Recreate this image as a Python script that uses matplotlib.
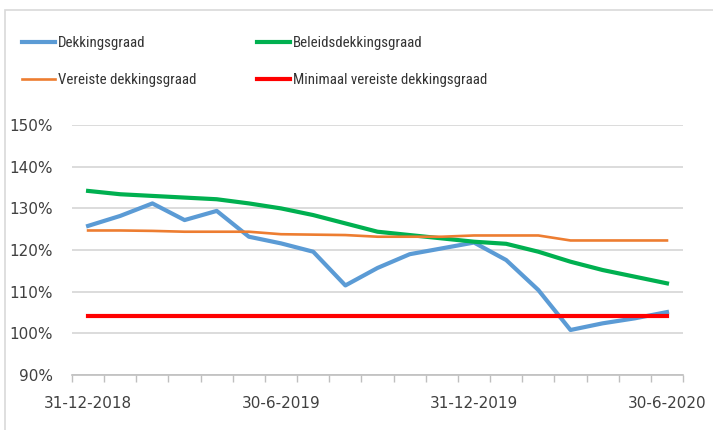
import matplotlib
matplotlib.use('Agg')
import matplotlib.pyplot as plt
from matplotlib.patches import Rectangle
from matplotlib.ticker import FuncFormatter, MultipleLocator
import numpy as np

# maandstanden dec 2018 - jun 2020
dekkingsgraad = [125.8, 128.2, 131.2, 127.2, 129.4, 123.2, 121.6, 119.6, 111.5, 115.7,
                 119.0, 120.4, 121.8, 117.6, 110.4, 100.8, 102.4, 103.6, 105.1]
beleidsdekkingsgraad = [134.2, 133.4, 133.0, 132.6, 132.2, 131.2, 130.0, 128.4, 126.4, 124.4,
                        123.6, 122.8, 122.0, 121.5, 119.6, 117.2, 115.2, 113.6, 112.0]
vereiste = [124.7, 124.7, 124.6, 124.4, 124.4, 124.4, 123.8, 123.7, 123.6, 123.2,
            123.2, 123.2, 123.5, 123.5, 123.5, 122.3, 122.3, 122.3, 122.3]
minimaal = [104.2] * 19
tick_labels = {0: '31-12-2018', 6: '30-6-2019', 12: '31-12-2019', 18: '30-6-2020'}

x = np.arange(len(dekkingsgraad))

fig = plt.figure(figsize=(7.13, 4.30), dpi=100)
ax = fig.add_axes([0.101, 0.128, 0.857, 0.581])

fig.patches.append(Rectangle((5 / 713, -0.1), 1.2, 1 - 10 / 430 + 0.1, transform=fig.transFigure,
                             fill=False, edgecolor='#d9d9d9', linewidth=1.2))

l1, = ax.plot(x, dekkingsgraad, color='#5b9bd5', lw=3.0, label='Dekkingsgraad', solid_joinstyle='round')
l2, = ax.plot(x, beleidsdekkingsgraad, color='#00b050', lw=3.0, label='Beleidsdekkingsgraad')
l3, = ax.plot(x, vereiste, color='#ed7d31', lw=1.9, label='Vereiste dekkingsgraad')
l4, = ax.plot(x, minimaal, color='#ff0000', lw=3.0, label='Minimaal vereiste dekkingsgraad')

ax.set_xlim(-0.5, len(x) - 0.5)
ax.set_ylim(90, 150)
ax.yaxis.set_major_locator(MultipleLocator(10))
ax.yaxis.set_major_formatter(FuncFormatter(lambda v, p: f'{v:.0f}%'))
ax.grid(axis='y', color='#d9d9d9', lw=1.3)
ax.set_axisbelow(True)

ax.set_xticks(list(tick_labels.keys()))
ax.set_xticklabels(list(tick_labels.values()))
ax.set_xticks(np.arange(-0.5, len(x), 1), minor=True)
ax.tick_params(axis='x', which='major', length=0, pad=15, labelsize=11, colors='#404040')
ax.tick_params(axis='x', which='minor', length=5, color='#bfbfbf', width=1)
ax.tick_params(axis='y', length=0, pad=14, labelsize=11, colors='#404040')

for s in ['top', 'right', 'left']:
    ax.spines[s].set_visible(False)
ax.spines['bottom'].set_color('#bfbfbf')
ax.spines['bottom'].set_linewidth(1.2)

leg = fig.legend(handles=[l1, l3, l2, l4], ncol=2, loc='upper left',
                 bbox_to_anchor=(22 / 713, 1 - 36 / 430), frameon=False,
                 prop={'family': ['Roboto Condensed', 'Liberation Sans'], 'size': 10.7},
                 handlelength=2.2, handletextpad=0.2,
                 columnspacing=4.1, labelspacing=1.55, borderaxespad=0, borderpad=0)
for t in leg.get_texts():
    t.set_color('#333333')

fig.savefig('out.png', dpi=100)
